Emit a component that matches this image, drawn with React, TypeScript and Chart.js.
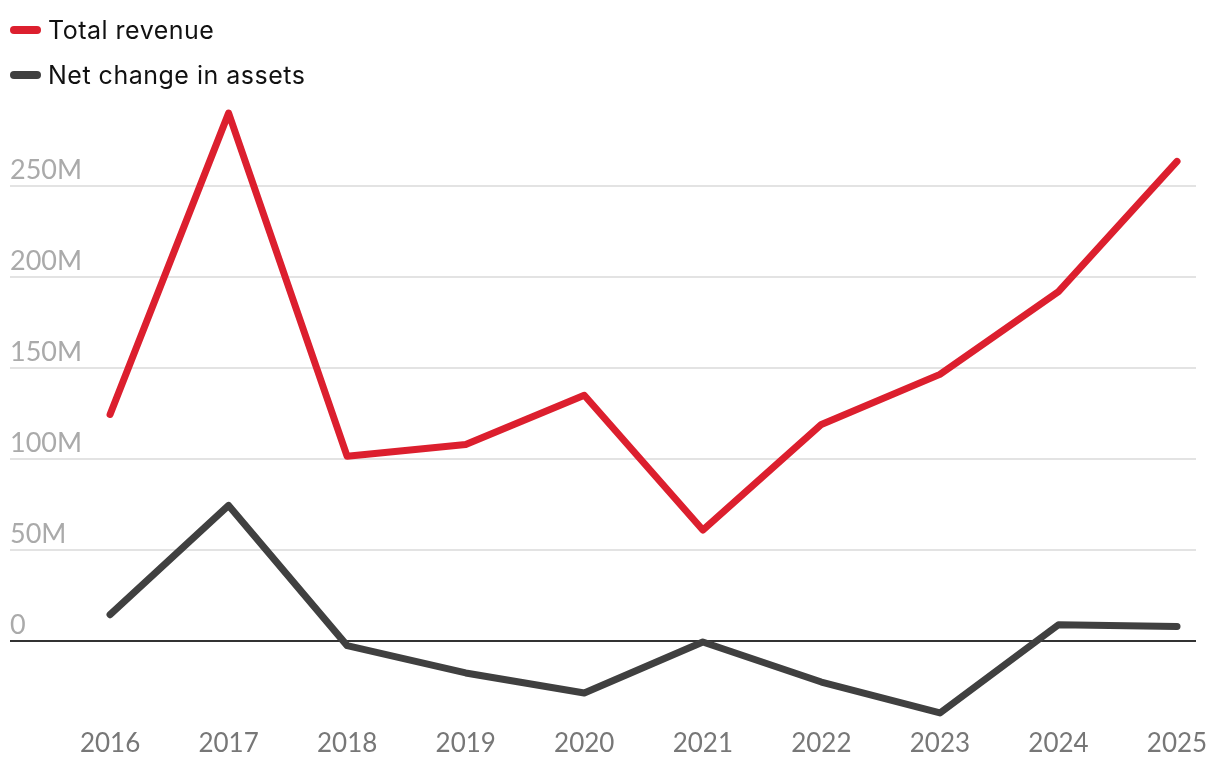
import React, { useEffect, useRef } from "react";
import { Chart, registerables } from "chart.js";

Chart.register(...registerables);

const YEARS = [2016, 2017, 2018, 2019, 2020, 2021, 2022, 2023, 2024, 2025];
const TOTAL_REVENUE = [124.5, 290, 101.5, 108, 135, 61, 119, 146.5, 192, 263.5];
const NET_CHANGE = [14.5, 74.5, -2.5, -17.5, -28.5, -0.5, -22.5, -39.5, 9, 8];
const Y_TICKS = [0, 50, 100, 150, 200, 250];
const Y_LABELS = ["0", "50M", "100M", "150M", "200M", "250M"];

const RED = "#dc1f2e";
const DARK = "#404040";
const FONT = "Lato, 'Open Sans', sans-serif";
const LEGEND_FONT = "Inter, 'Open Sans', sans-serif";

export default function App() {
  const ref = useRef<HTMLCanvasElement | null>(null);

  useEffect(() => {
    document.body.style.margin = "0";
    if (!ref.current) return;
    const chart = new Chart(ref.current, {
      type: "line",
      data: {
        datasets: [
          {
            label: "Total revenue",
            data: YEARS.map((y, i) => ({ x: y, y: TOTAL_REVENUE[i] })),
            borderColor: RED,
            backgroundColor: RED,
            borderWidth: 7,
            borderCapStyle: "round",
            borderJoinStyle: "round",
            pointRadius: 0,
            tension: 0,
          },
          {
            label: "Net change in assets",
            data: YEARS.map((y, i) => ({ x: y, y: NET_CHANGE[i] })),
            borderColor: DARK,
            backgroundColor: DARK,
            borderWidth: 7,
            borderCapStyle: "round",
            borderJoinStyle: "round",
            pointRadius: 0,
            tension: 0,
          },
        ],
      },
      options: {
        animation: false,
        responsive: true,
        maintainAspectRatio: false,
        layout: { padding: { left: 10, right: 24, top: 104, bottom: 0 } },
        plugins: {
          legend: { display: false },
          tooltip: { enabled: false },
        },
        scales: {
          x: {
            type: "linear",
            min: 2015.156,
            max: 2025.16,
            afterBuildTicks: (s: any) => {
              s.ticks = YEARS.map((v) => ({ value: v }));
            },
            afterFit: (s: any) => {
              s.height = 55;
            },
            grid: { display: false, drawTicks: false },
            border: { display: false },
            ticks: {
              autoSkip: false,
              maxRotation: 0,
              padding: 5,
              color: "#777",
              font: { family: FONT, size: 26 },
              callback: (v: any) => String(v),
            },
          },
          y: {
            type: "linear",
            min: -45,
            max: 295,
            afterBuildTicks: (s: any) => {
              s.ticks = Y_TICKS.map((v) => ({ value: v }));
            },
            afterFit: (s: any) => {
              s.width = 0;
            },
            grid: {
              drawTicks: false,
              lineWidth: 2,
              color: (c: any) => (c.tick && c.tick.value === 0 ? "#333" : "#e3e3e3"),
            },
            border: { display: false },
            ticks: {
              mirror: true,
              padding: 0,
              labelOffset: -16,
              color: "#aaa",
              font: { family: FONT, size: 27 },
              callback: (v: any) => {
                const i = Y_TICKS.indexOf(Number(v));
                return i >= 0 ? Y_LABELS[i] : "";
              },
            },
          },
        },
      },
    });
    return () => chart.destroy();
  }, []);

  const legendItem = (color: string, text: string, top: number) => (
    <div
      style={{
        position: "absolute",
        left: 10,
        top: top - 16,
        height: 32,
        display: "flex",
        alignItems: "center",
        fontFamily: LEGEND_FONT,
        fontSize: 25,
        letterSpacing: 0.5,
        color: "#111",
      }}
    >
      <span
        style={{
          display: "inline-block",
          width: 31,
          height: 8,
          borderRadius: 4,
          background: color,
          marginRight: 7,
        }}
      />
      <span>{text}</span>
    </div>
  );

  return (
    <div style={{ position: "fixed", left: 0, top: 0, width: 1220, height: 778, background: "#fff" }}>
      <canvas ref={ref} />
      {legendItem(RED, "Total revenue", 30)}
      {legendItem(DARK, "Net change in assets", 75)}
    </div>
  );
}
